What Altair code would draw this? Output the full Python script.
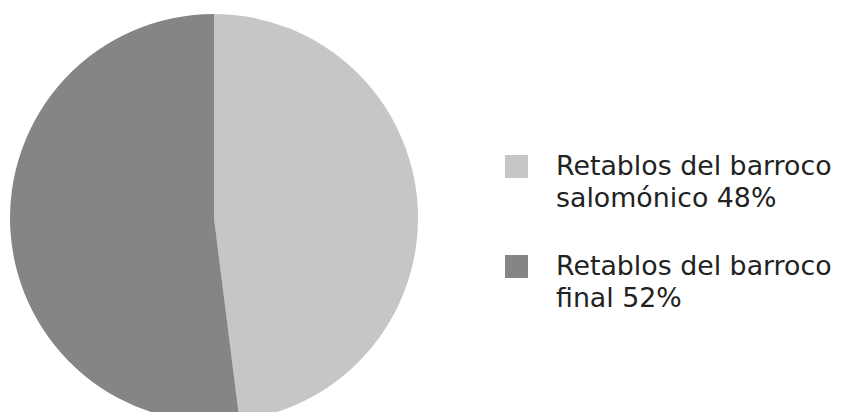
import altair as alt
import pandas as pd

categories = ["Retablos del barroco salomónico 48%", "Retablos del barroco final 52%"]
legend_labels = ["Retablos del barroco|salomónico 48%", "Retablos del barroco|final 52%"]
values = [48, 52]
colors = ["#c6c6c6", "#858585"]

df = pd.DataFrame({"cat": categories, "label": legend_labels, "value": values, "order": [0, 1]})

color = alt.Color("cat:N", scale=alt.Scale(domain=categories, range=colors), legend=None)

pie = alt.Chart(df).mark_arc(radius=204, stroke=None).encode(
    theta=alt.Theta("value:Q", stack=True),
    order=alt.Order("order:Q"),
    x=alt.value(206),
    y=alt.value(210),
    color=color,
)

yleg = alt.Y("cat:N", scale=alt.Scale(domain=categories, type="point", range=[158.5, 258.5], padding=0), axis=None)

squares = alt.Chart(df).mark_square(size=529, opacity=1, strokeWidth=0).encode(
    x=alt.value(508.5),
    y=yleg,
    color=color,
)

labels = alt.Chart(df).mark_text(
    align="left", baseline="alphabetic", lineBreak="|", lineHeight=32,
    font="DejaVu Sans", fontSize=26.8, color="#222222", dy=8,
).encode(
    x=alt.value(548),
    y=yleg,
    text="label:N",
)

chart = alt.layer(pie, squares, labels).properties(
    width=828, height=404, padding=0, autosize=alt.AutoSizeParams(type="none")
).configure_view(stroke=None)

chart.save("out.html", embed_options={"renderer": "svg", "actions": False})
